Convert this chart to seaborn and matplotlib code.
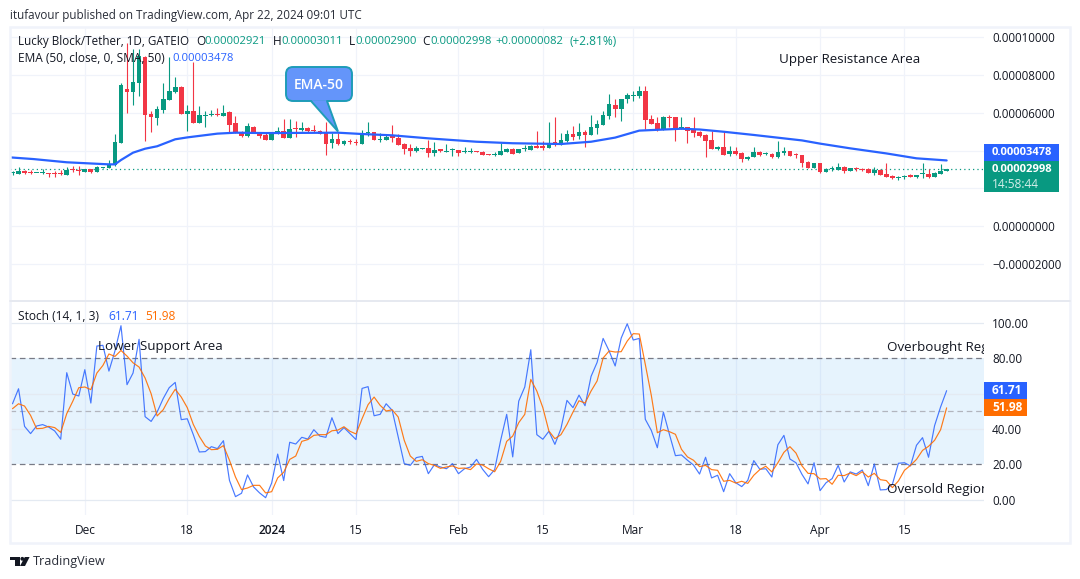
import numpy as np
import pandas as pd
import seaborn as sns
import matplotlib
matplotlib.use("Agg")
import matplotlib.pyplot as plt
from matplotlib.patches import FancyBboxPatch, Polygon, Rectangle, Circle

# ---- data (prices in units of 1e-5) ----
start_date = "2023-11-19"
tick_dates = ["2023-12-01", "2023-12-18", "2024-01-01", "2024-01-15", "2024-02-01",
              "2024-02-15", "2024-03-01", "2024-03-18", "2024-04-01", "2024-04-15"]
tick_names = ["Dec", "18", "2024", "15", "Feb", "15", "Mar", "18", "Apr", "15"]

opens = [2.79,2.78,2.90,2.81,2.79,2.79,2.78,2.78,2.78,2.72,3.04,2.95,2.88,3.00,2.88,3.09,3.09,3.22,4.42,7.25,
         7.13,7.60,8.98,5.94,5.75,6.15,6.68,7.11,7.37,5.96,6.10,5.48,5.85,5.87,5.96,5.85,6.05,5.46,4.97,4.79,
         5.25,4.97,4.83,4.58,4.90,5.02,4.69,5.18,5.11,5.20,5.08,5.02,4.97,4.40,4.60,4.37,4.49,4.44,4.37,4.92,
         4.99,4.58,4.58,4.72,4.67,4.35,4.14,3.98,4.10,4.14,3.87,4.05,3.94,4.01,4.03,3.93,3.93,3.98,3.93,3.82,
         3.75,3.78,3.94,4.08,3.89,4.08,4.05,4.24,4.19,4.16,4.46,4.31,4.51,4.86,4.77,5.00,4.85,5.20,5.36,5.85,
         6.42,6.21,6.74,6.91,6.90,7.16,5.68,5.46,5.11,5.78,5.78,5.18,5.25,5.11,4.99,4.83,4.55,4.10,4.19,3.84,
         3.98,3.87,3.55,3.66,3.94,3.80,3.84,3.64,3.87,3.98,3.78,3.75,3.41,3.08,3.34,2.88,3.01,2.97,3.13,2.94,
         3.09,3.04,3.02,2.83,2.99,2.76,2.65,2.56,2.60,2.67,2.58,2.76,2.76,2.62,2.78,2.921]
highs = [2.92,3.11,2.97,2.97,2.81,3.00,2.79,2.93,2.97,3.15,3.18,3.18,3.04,3.02,3.18,3.15,3.50,4.88,7.60,9.71,
         9.39,9.39,9.02,6.12,6.37,7.57,8.95,7.89,7.43,6.42,8.72,6.37,6.12,6.15,6.24,6.40,6.10,5.84,5.06,5.45,
         5.30,5.00,4.92,5.00,5.23,5.66,5.69,5.55,5.52,5.23,5.36,5.09,5.54,4.92,4.92,4.56,4.62,4.60,5.09,5.54,
         4.99,4.92,4.81,5.36,4.88,4.42,4.35,4.24,4.14,4.56,4.46,4.10,4.35,4.14,4.05,4.17,4.15,3.98,3.98,3.82,
         3.93,4.39,4.15,4.15,4.10,4.30,4.32,5.04,4.49,5.54,5.80,4.95,5.09,5.31,5.45,5.09,5.89,5.62,6.08,7.00,
         6.74,6.74,7.04,7.18,7.43,7.43,5.89,5.80,5.84,5.89,5.78,5.78,5.27,5.78,5.06,4.88,5.02,4.24,5.02,4.24,
         4.21,3.94,3.73,4.21,4.00,3.94,3.89,4.53,4.21,4.00,3.89,3.77,3.45,3.36,3.36,3.06,3.16,3.32,3.16,3.09,
         3.15,3.09,3.06,3.15,3.02,3.36,2.72,2.65,2.72,2.76,2.72,3.36,3.02,2.85,3.27,3.011]
lows = [2.71,2.74,2.78,2.78,2.79,2.78,2.58,2.62,2.71,2.72,2.87,2.72,2.87,2.83,2.87,3.08,3.09,3.18,4.39,5.98,
        6.42,6.90,4.53,5.00,5.36,6.01,6.68,7.04,5.94,5.06,5.45,5.48,5.27,5.84,5.84,5.84,4.97,4.92,4.70,4.74,
        4.92,4.65,4.56,4.56,4.90,4.69,4.69,4.74,5.06,5.00,5.00,4.86,3.78,4.14,4.31,4.31,4.35,4.30,4.35,4.77,
        4.56,4.47,4.56,4.47,4.28,3.84,3.71,3.93,4.10,3.66,3.71,3.93,3.94,3.71,3.71,3.89,3.89,3.94,3.77,3.78,
        3.71,3.77,3.93,3.82,3.89,3.96,4.03,4.14,4.03,4.14,4.24,4.30,4.46,4.56,4.63,4.21,4.83,4.88,5.36,5.68,
        5.80,5.59,6.51,6.65,6.81,5.15,5.41,5.02,5.09,5.23,4.51,5.13,4.40,4.74,4.70,3.66,4.08,4.05,3.75,3.73,
        3.77,3.39,3.50,3.64,3.71,3.77,3.59,3.61,3.77,3.71,3.59,3.15,3.06,3.06,2.83,2.86,2.92,2.95,2.83,2.92,
        2.94,2.92,2.79,2.70,2.69,2.58,2.51,2.46,2.51,2.58,2.55,2.56,2.55,2.60,2.76,2.900]
closes = [2.83,2.92,2.79,2.79,2.81,2.81,2.74,2.74,2.74,2.99,2.97,2.92,3.00,2.87,3.11,3.13,3.29,4.44,7.48,7.11,
          7.64,9.02,5.89,5.77,6.22,6.72,7.16,7.37,5.94,6.12,5.48,5.89,5.91,5.92,5.87,5.99,5.36,4.93,4.79,5.30,
          4.93,4.79,4.58,4.95,5.02,4.69,5.15,5.15,5.20,5.04,5.02,4.88,4.35,4.60,4.35,4.49,4.46,4.39,4.92,4.97,
          4.58,4.62,4.72,4.69,4.30,4.10,3.98,4.14,4.14,3.89,4.03,4.00,3.98,4.05,3.89,3.96,3.96,3.94,3.78,3.78,
          3.78,3.98,4.08,3.84,4.08,4.14,4.24,4.16,4.16,4.39,4.30,4.56,4.88,4.72,5.00,4.85,5.25,5.41,5.89,6.47,
          6.21,6.74,6.95,6.95,7.16,5.62,5.43,5.08,5.78,5.73,5.20,5.23,5.06,4.95,4.79,4.51,4.10,4.19,3.77,3.98,
          3.84,3.57,3.66,3.93,3.77,3.85,3.66,3.93,3.98,3.71,3.75,3.36,3.08,3.34,2.88,3.01,3.04,3.13,2.92,3.08,
          3.02,2.99,2.83,2.99,2.72,2.60,2.56,2.60,2.65,2.62,2.70,2.79,2.60,2.81,2.92,2.998]

ema_days = [-0.4,3.5,9,16,17,18,20,22,24,27,29,34,37,42,54,58,63,69,77,83,91,96,100,104,111,114,118,123,131,134,139,145,150,155]
ema_vals = [3.64,3.55,3.38,3.27,3.27,3.50,3.89,4.10,4.23,4.60,4.70,4.90,4.95,4.93,4.95,4.88,4.81,4.65,4.47,4.39,
            4.35,4.47,4.69,5.06,5.16,5.12,5.00,4.83,4.54,4.37,4.12,3.85,3.59,3.478]

stoch_k = [54.3,62.8,41.5,37.4,41.7,42.5,41.1,38.9,34.2,71.9,59.8,58.7,73.6,54.7,87.0,87.4,72.8,84.2,98.5,65.1,
           71.7,90.8,47.0,44.3,49.6,57.2,63.4,66.4,45.3,45.8,36.8,27.0,27.2,30.0,28.9,33.4,10.9,1.7,3.6,14.0,
           7.2,3.8,1.1,9.4,25.8,10.8,32.5,31.5,35.3,34.3,39.6,36.0,35.3,46.4,37.4,40.8,37.4,34.0,63.0,64.0,
           47.5,48.3,54.3,50.6,35.5,20.4,19.4,23.8,24.5,14.7,19.8,18.5,17.5,20.4,14.7,17.5,18.5,22.8,17.2,13.0,
           17.0,33.6,48.3,24.2,55.8,63.8,84.9,36.8,34.2,38.7,31.3,40.2,56.2,52.1,59.2,53.2,69.8,77.7,91.3,84.2,
           75.7,91.5,99.6,90.4,91.3,45.5,39.2,29.4,49.6,37.0,24.9,25.3,22.3,19.6,14.5,24.0,12.3,13.8,4.5,14.7,
           9.6,7.4,10.9,22.1,17.2,17.5,12.8,31.1,36.4,23.0,20.9,14.3,8.9,20.9,5.1,9.6,11.9,19.4,10.0,15.7,
           14.5,16.8,7.9,20.2,5.5,5.7,8.7,20.6,20.9,19.1,30.8,35.1,24.0,41.9,52.5,61.71]
stoch_d = [51.5,54.3,53.0,47.7,40.2,40.4,41.5,40.8,38.1,48.7,55.7,63.4,63.8,62.3,71.7,76.0,82.5,81.1,84.5,81.3,
           77.5,75.1,68.9,60.0,47.4,50.9,57.2,62.5,58.1,52.1,42.6,35.8,30.4,28.3,28.5,30.6,22.3,12.8,5.7,6.6,
           8.1,8.1,3.8,4.5,12.3,15.5,22.8,24.7,33.0,34.0,36.4,36.8,36.8,39.0,39.4,41.3,38.7,37.2,45.8,53.8,
           58.1,53.4,50.2,50.9,46.8,33.6,24.7,21.7,22.6,20.4,19.4,17.7,18.5,19.1,17.7,17.9,17.0,20.2,19.6,17.5,
           15.8,21.7,33.0,36.0,43.6,48.3,68.1,61.5,52.1,38.9,34.5,36.8,42.6,49.6,56.0,54.7,61.5,67.2,80.2,84.2,
           83.6,83.8,89.8,94.0,93.8,76.6,59.0,37.9,39.6,38.5,37.0,28.5,24.2,22.3,18.7,19.4,17.0,16.6,10.4,10.9,
           9.4,10.4,9.2,13.8,17.0,18.9,15.7,20.9,26.8,30.0,26.4,19.1,14.9,14.7,11.7,11.9,8.7,13.8,13.6,15.1,
           13.6,15.8,12.8,14.9,11.3,10.8,6.8,10.6,16.6,19.4,22.8,27.9,30.2,33.6,39.6,51.98]

# levels whose axis labels are covered by the price tags in the reference carry no label
price_ticks = [-2, 0, 2, 4, 6, 8, 10]
price_labels = ["\u22120.00002000", "0.00000000", "", "", "0.00006000", "0.00008000", "0.00010000"]
stoch_ticks = [0, 20, 40, 60, 80, 100]
stoch_labels = ["0.00", "20.00", "40.00", "", "80.00", "100.00"]

# ---- style ----
sns.set_theme(style="white")
FONT = ["Open Sans", "DejaVu Sans"]
plt.rcParams["font.family"] = FONT
UP, DOWN = "#089981", "#F23645"
BLUE, ORANGE = "#2962FF", "#FF6D00"
GRID = "#F0F3FA"
INK = "#131722"
FS = 8.6
NUM = 8.1

W, H = 1080, 579
fig = plt.figure(figsize=(W / 100, H / 100), dpi=100, facecolor="white")

def pane(x0, y0, x1, y1):
    return fig.add_axes([x0 / W, 1 - y1 / H, (x1 - x0) / W, (y1 - y0) / H])

ax1 = pane(10, 27, 984, 301)
ax2 = pane(10, 301, 984, 515)
over = fig.add_axes([0, 0, 1, 1], zorder=10)
over.set_xlim(0, W); over.set_ylim(H, 0); over.axis("off")
over.patch.set_alpha(0)

days = np.arange(len(closes))
dates = pd.date_range(start_date, periods=len(closes))
tick_pos = [(pd.Timestamp(d) - dates[0]).days for d in tick_dates]
XLIM = (-0.415, 161.2)

o, h, l, c = map(np.array, (opens, highs, lows, closes))
colors = np.where(c >= o, UP, DOWN)

for ax in (ax1, ax2):
    ax.set_xlim(*XLIM)
    ax.set_facecolor("white")
    for s in ax.spines.values():
        s.set_visible(False)
    ax.yaxis.tick_right()
    ax.set_xticks(tick_pos)
    ax.grid(False)
    for p in tick_pos:
        ax.axvline(p, color=GRID, lw=0.9, zorder=0)

# price pane
ax1.set_ylim(-3.979, 10.557)
ax1.set_yticks(price_ticks)
ax1.set_yticklabels(price_labels)
ax1.tick_params(axis="y", length=0, pad=5.8, labelsize=8.3, labelcolor=INK)
ax1.tick_params(axis="x", length=0, labelbottom=False)
for t in price_ticks:
    ax1.axhline(t, color=GRID, lw=0.9, zorder=0)
ax1.vlines(days, l, h, colors=colors, lw=0.8, zorder=2)
ax1.bar(days, np.maximum(np.abs(c - o), 0.06), bottom=np.minimum(o, c), width=0.78,
        color=colors, linewidth=0, zorder=3)
sns.lineplot(x=ema_days, y=ema_vals, ax=ax1, color=BLUE, lw=1.6, zorder=4, legend=False)
ax1.axhline(closes[-1], color=UP, lw=0.9, ls=(0, (1, 2.5)), zorder=1)
ax1.set_xlabel(""); ax1.set_ylabel("")

# stochastic pane
ax2.set_ylim(-8.7, 112.5)
ax2.axhspan(20, 80, color="#2196F3", alpha=0.11, lw=0, zorder=0.5)
ax2.set_yticks(stoch_ticks)
ax2.set_yticklabels(stoch_labels)
ax2.tick_params(axis="y", length=0, pad=5.8, labelsize=8.5, labelcolor=INK)
ax2.set_xticklabels(tick_names)
ax2.tick_params(axis="x", length=0, pad=6.4, labelsize=FS, labelcolor=INK)
ax2.get_xticklabels()[2].set_fontweight("semibold")
for t in (0, 40, 60, 100):
    ax2.axhline(t, color="#E4EAF2", lw=0.9, zorder=0.6)
for t in (20, 80):
    ax2.axhline(t, color="#787B86", lw=0.9, ls=(0, (4.5, 3)), zorder=1)
ax2.axhline(50, color="#B2B5BE", lw=0.9, ls=(0, (4.5, 3)), zorder=1)
sns.lineplot(x=days, y=stoch_k, ax=ax2, color=BLUE, lw=0.85, alpha=0.85, zorder=3, legend=False)
sns.lineplot(x=days, y=stoch_d, ax=ax2, color=ORANGE, lw=0.85, alpha=0.9, zorder=4, legend=False)
ax2.set_xlabel(""); ax2.set_ylabel("")

# clipped notes belong to the stochastic pane
for txt, x, y in [("Lower Support Area", 98, 346.5), ("Overbought Region", 887, 347.5), ("Oversold Region", 887, 489.5)]:
    ax2.text(x, y, txt, transform=over.transData, fontsize=9.6, color=INK, va="center", ha="left",
             clip_on=True, zorder=6)

# frame
over.add_patch(Rectangle((10, 27), 1060, 516, fill=False, ec=GRID, lw=1.8))
over.plot([10, 1070], [301, 301], color="#E6E9F0", lw=1.4)

def label(x, y, s, color=INK, size=FS, weight="normal", ha="left"):
    over.text(x, y, s, color=color, fontsize=size, fontweight=weight, ha=ha, va="center")

GR = "#089981"
label(10, 15, "itufavour published on TradingView.com, Apr 22, 2024 09:01 UTC", "#2A2E39", size=8.36)
label(18, 41.5, "Lucky Block/Tether, 1D, GATEIO", INK, size=8.4)
for x, s, col, sz in [(196, "O", INK, FS), (204, "0.00002921", GR, NUM), (273, "H", INK, FS), (281, "0.00003011", GR, NUM),
                      (349, "L", INK, FS), (355, "0.00002900", GR, NUM), (422, "C", INK, FS), (430, "0.00002998", GR, NUM),
                      (495, "+0.00000082", GR, NUM), (570, "(+2.81%)", GR, FS)]:
    label(x, 41.5, s, col, size=sz)
label(18, 58.5, "EMA (50, close, 0, SMA, 50)", INK)
label(172, 58.5, "0.00003478", BLUE, size=NUM)
label(18, 316, "Stoch (14, 1, 3)", INK)
label(108, 316, "61.71", BLUE)
label(145, 316, "51.98", ORANGE)
label(779, 59.5, "Upper Resistance Area", INK, size=9.6)

# axis price tags
over.add_patch(Rectangle((984, 144), 75, 17, fc=BLUE, ec="none"))
label(992, 152.5, "0.00003478", "white", size=NUM, weight="bold")
over.add_patch(Rectangle((984, 161), 75, 31, fc=UP, ec="none"))
label(992, 169.5, "0.00002998", "white", size=NUM, weight="bold")
label(992, 184, "14:58:44", "#D5EFEA")
over.add_patch(Rectangle((984, 382), 43, 17, fc=BLUE, ec="none"))
label(992, 390.5, "61.71", "white", weight="bold")
over.add_patch(Rectangle((984, 399), 43, 17, fc=ORANGE, ec="none"))
label(992, 407.5, "51.98", "white", weight="bold")

# EMA-50 callout
FILL, EDGE = "#6495FA", "#1E9CB8"
over.add_patch(FancyBboxPatch((292, 73), 54, 22, boxstyle="round,pad=6,rounding_size=7",
                              fc=FILL, ec=EDGE, lw=1.4, zorder=5))
over.add_patch(Polygon([(311, 100.2), (338, 131.5), (327, 100.2)], fc=FILL, ec="none", zorder=6))
over.plot([311, 338, 327], [101, 131.5, 101], color=EDGE, lw=1.4, zorder=7, solid_joinstyle="miter")
over.text(319, 85, "EMA-50", color="white", fontsize=10, fontweight="semibold", ha="center", va="center", zorder=8)

# TradingView mark
over.add_patch(Polygon([(10, 557), (19.5, 557), (19.5, 566), (14.5, 566), (14.5, 560.3), (10, 560.3)],
                       fc="#131722", ec="none"))
over.add_patch(Circle((22.3, 558.8), 1.9, fc="#131722", ec="none"))
over.add_patch(Polygon([(24.8, 557), (29.6, 557), (25, 566), (20, 566)], fc="#131722", ec="none"))
label(33, 561, "TradingView", "#2A2E39", size=9.1)

fig.savefig("out.png", dpi=100, facecolor="white")
